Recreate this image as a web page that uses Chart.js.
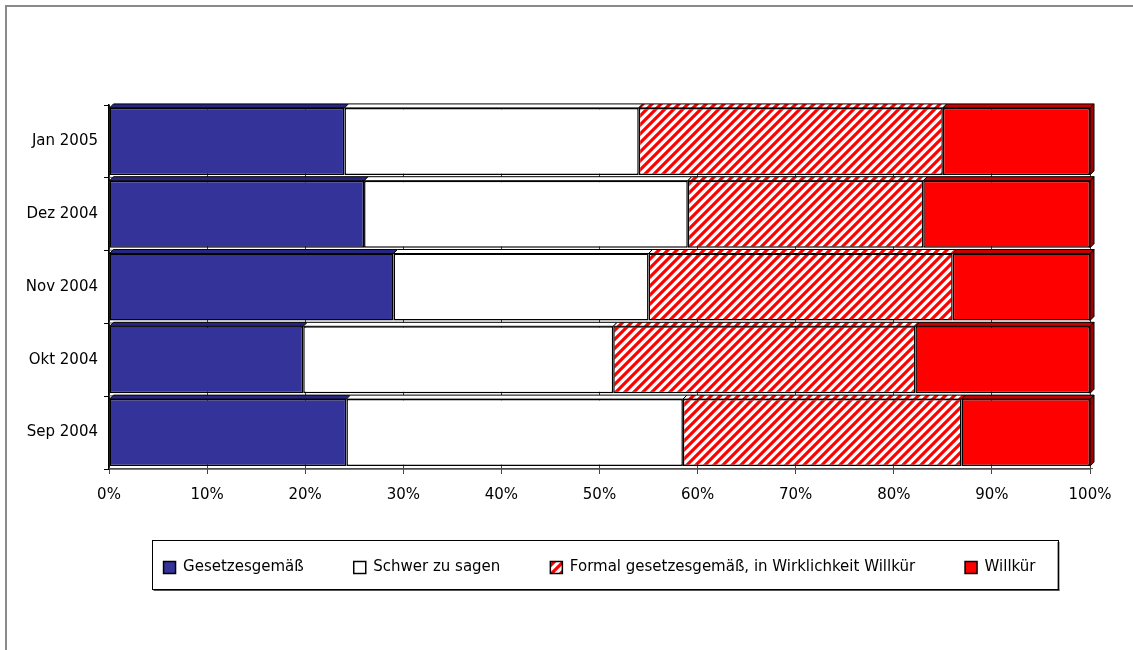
<!DOCTYPE html>
<html>
<head>
<meta charset="utf-8">
<script src="https://cdn.jsdelivr.net/npm/chart.js@4.4.0/dist/chart.umd.min.js"></script>
<style>
  body { margin: 0; background: #fff; }
  #wrap { position: relative; width: 1133px; height: 650px; overflow: hidden; }
  #frame { position: absolute; left: 5px; top: 5px; width: 1200px; height: 700px;
           border-left: 2px solid #8a8a8a; border-top: 2px solid #8a8a8a; }
  #myChart { position: absolute; left: 0; top: 0; }
</style>
</head>
<body>
<div id="wrap">
  <div id="frame"></div>
  <canvas id="myChart" width="1133" height="650"></canvas>
</div>
<script>
// Data

const categories = ['Jan 2005', 'Dez 2004', 'Nov 2004', 'Okt 2004', 'Sep 2004'];
const seriesNames = ['Gesetzesgemäß', 'Schwer zu sagen', 'Formal gesetzesgemäß, in Wirklichkeit Willkür', 'Willkür'];

const gesetzesgemaess = [24, 26, 29, 19.8, 24.2];
const schwerZuSagen = [30, 33, 26, 31.6, 34.3];
const formalWillkuer = [31, 24, 31, 30.8, 28.4];
const willkuer = [15, 17, 14, 17.8, 13.1];

const xTicks = [0, 10, 20, 30, 40, 50, 60, 70, 80, 90, 100];

// hatch pattern for the "formal" series

function makeHatch() {
    const s = 9;
    const c = document.createElement('canvas');
    c.width = s;
    c.height = s;
    const g = c.getContext('2d');
    g.fillStyle = '#fff';
    g.fillRect(0, 0, s, s);
    g.strokeStyle = '#ff0000';
    g.lineWidth = 3.2;
    g.beginPath();
    g.moveTo(-2, s + 2); g.lineTo(s + 2, -2);
    g.moveTo(-s, s); g.lineTo(s, -s);
    g.moveTo(0, 2 * s); g.lineTo(2 * s, 0);
    g.stroke();
    return g.createPattern(c, 'repeat');
}
const hatch = makeHatch();

const fills = ['#333399', '#ffffff', hatch, '#ff0000'];
const topFills = ['#262680', '#ffffff', hatch, '#c80000'];

// 3D top / side faces drawn from the bar elements

const depthPlugin = {
    id: 'depth',
    afterDatasetsDraw(chart) {
        const ctx = chart.ctx;
        const d = 4;
        const last = chart.data.datasets.length - 1;
        chart.data.datasets.forEach((ds, i) => {
            const meta = chart.getDatasetMeta(i);
            meta.data.forEach(bar => {
                const p = bar.getProps(['x', 'y', 'base', 'height'], true);
                const top = p.y - p.height / 2;
                const bottom = p.y + p.height / 2;
                const left = Math.min(p.base, p.x);
                const right = Math.max(p.base, p.x);
                ctx.save();
                ctx.lineWidth = 1;
                ctx.strokeStyle = '#000';
                ctx.beginPath();
                ctx.moveTo(left, top);
                ctx.lineTo(right, top);
                ctx.lineTo(right + d, top - d);
                ctx.lineTo(left + d, top - d);
                ctx.closePath();
                ctx.fillStyle = topFills[i];
                ctx.fill();
                ctx.stroke();
                if (i === last) {
                    ctx.beginPath();
                    ctx.moveTo(right, top);
                    ctx.lineTo(right + d, top - d);
                    ctx.lineTo(right + d, bottom - d);
                    ctx.lineTo(right, bottom);
                    ctx.closePath();
                    ctx.fillStyle = '#a00000';
                    ctx.fill();
                    ctx.stroke();
                }
                // thin floor line under each bar
                if (i === 0) {
                    ctx.beginPath();
                    ctx.moveTo(chart.chartArea.left, bottom + 2.5);
                    ctx.lineTo(chart.chartArea.right + d - 1, bottom + 2.5);
                    ctx.strokeStyle = '#555';
                    ctx.stroke();
                }
                ctx.restore();
            });
        });
    }
};

// box around legend

const legendBox = {
    id: 'legendBox',
    afterDraw(chart) {
        const lg = chart.legend;
        if (!lg || !lg.legendHitBoxes.length) return;
        const hb = lg.legendHitBoxes;
        const first = hb[0];
        const lastHb = hb[hb.length - 1];
        const x0 = first.left - 12;
        const x1 = lastHb.left + lastHb.width + 22;
        const y0 = first.top - 20;
        const y1 = first.top + first.height + 14;
        const ctx = chart.ctx;
        ctx.save();
        ctx.fillStyle = '#555';
        ctx.fillRect(x0 + 2, y1, x1 - x0, 2);
        ctx.fillRect(x1, y0 + 2, 2, y1 - y0);
        ctx.strokeStyle = '#000';
        ctx.lineWidth = 1;
        ctx.strokeRect(Math.round(x0) + 0.5, Math.round(y0) + 0.5, Math.round(x1 - x0), Math.round(y1 - y0));
        ctx.restore();
    }
};

const datasets = [gesetzesgemaess, schwerZuSagen, formalWillkuer, willkuer].map((vals, i) => ({
    label: seriesNames[i],
    data: vals,
    backgroundColor: fills[i],
    borderColor: '#000',
    borderWidth: 1.5,
    borderSkipped: false,
    barPercentage: 0.92,
    categoryPercentage: 1.0,
}));

const config = {
    type: 'bar',
    data: {
        labels: categories,
        datasets: datasets
    },
    options: {
        indexAxis: 'y',
        responsive: false,
        animation: false,
        layout: {
            padding: { top: 105, right: 43, left: 0, bottom: 65 }
        },
        plugins: {
            tooltip: { enabled: false },
            legend: {
                position: 'bottom',
                fullSize: false,
                labels: {
                    boxWidth: 12,
                    boxHeight: 12,
                    padding: 50,
                    color: '#000',
                    font: { family: 'DejaVu Sans', size: 15 }
                }
            }
        },
        scales: {
            x: {
                stacked: true,
                min: 0,
                max: 100,
                afterBuildTicks: scale => { scale.ticks = xTicks.map(v => ({ value: v })); },
                afterFit: scale => { scale.height = 41; },
                ticks: {
                    padding: 12,
                    color: '#000',
                    font: { family: 'DejaVu Sans', size: 15 },
                    callback: v => v + '%'
                },
                grid: {
                    color: '#444',
                    tickLength: 5,
                    drawOnChartArea: true
                },
                border: { color: '#000', width: 1.5 }
            },
            y: {
                stacked: true,
                afterFit: scale => { scale.width = 109; },
                ticks: {
                    padding: 6,
                    color: '#000',
                    font: { family: 'DejaVu Sans', size: 15 }
                },
                grid: {
                    color: '#000',
                    tickLength: 5,
                    drawOnChartArea: false
                },
                border: { color: '#000', width: 1.5 }
            }
        }
    },
    plugins: [depthPlugin, legendBox]
};

const ctx = document.querySelector('#myChart');
let myChart = new Chart(ctx, config);
</script>
</body>
</html>
